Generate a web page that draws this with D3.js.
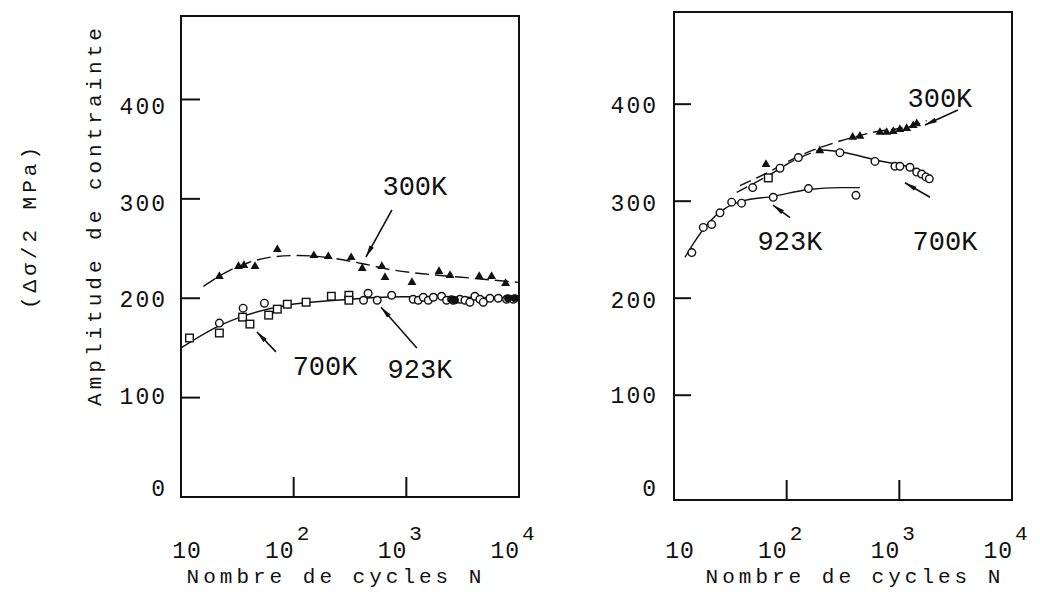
<!DOCTYPE html>
<html><head><meta charset="utf-8">
<script src="https://cdn.jsdelivr.net/npm/d3@7"></script>
<style>
body{margin:0;background:#fff;}
svg{display:block;}
text{font-family:"Liberation Mono","DejaVu Sans Mono",monospace;fill:#111;}
</style></head><body>
<svg id="chart" width="1040" height="596"></svg>
<script>
// ---------- data ----------
const xTicks = [10, 100, 1000, 10000];
const xTickBase = ["10", "10", "10", "10"];
const xTickExp = ["", "2", "3", "4"];
const yTicks = [0, 100, 200, 300, 400];
const yTickLabels = ["0", "100", "200", "300", "400"];

// left panel
const leftT300 = [[21.9,222],[32.4,232],[36.2,233],[45.4,232],[71.6,249],[151,243],[203,242],[324,241],[406,230],[606,232],[647,221],[1122,216],[1950,227],[2443,223],[4436,222],[5710,222],[7600,215]];
const leftCurve300 = [[15.8,212],[25,226],[40,236],[70,242],[110,243],[200,241],[400,235],[800,228],[1600,224],[4000,220],[9800,216]];
const leftS700 = [[11.9,160],[21.9,165],[35.2,181],[40.9,174],[60,183],[71.6,189],[87.8,194],[129,196],[216,202],[309,203],[309,198]];
const leftC923 = [[21.9,175],[35.6,190],[55,195],[417,198],[458,205],[551,198],[741,203],[1150,199],[1276,198],[1414,201],[1567,198],[1738,201],[2055,202],[2276,198],[2606,198],[2990,199],[3311,198],[3664,196],[4060,202],[4500,199],[4820,196],[5520,200],[6550,200],[7760,199],[8900,199]];
const leftFilled = [[2500,199],[2700,198],[8000,200],[9200,200]];
const leftCurveLow = [[10,150],[20.7,171],[38,183],[87,193],[240,198],[940,201.5],[10000,200]];

// right panel
const rightT300 = [[65.5,338],[197,352],[385,366],[447,367],[673,371],[771,371],[883,372],[1012,374],[1161,375],[1328,378],[1425,380]];
const rightCurve300 = [[38.5,316],[66.5,329],[131,347],[297,362],[587,371],[1425,379],[1746,383]];
const rightC700 = [[49.9,314],[87.2,334],[127,345],[297,350],[608,341],[914,336],[1012,336],[1242,335],[1425,330],[1578,328],[1723,325],[1845,323]];
const rightS700 = [[68.7,324]];
const rightCurve700a = [[36,309],[70,327],[120,343],[197,353]];
const rightCurve700b = [[197,353],[297,351],[587,343],[1746,328],[1936,323]];
const rightC923 = [[14.4,247],[18.2,273],[21.6,276],[25.6,288],[32.5,299],[39.8,298],[76,304],[156,313],[412,306]];
const rightCurve923 = [[12.5,242],[15,257],[20,277],[28,292],[40,300],[76,305],[156,312],[300,314],[447,314]];

// annotations: [label, textN, textV, arrowFromN, arrowFromV, arrowToN, arrowToV]
const leftNotes = [["300K",1191,314,745,289,438,241.5],["700K",190,133,69.7,146,47.2,166],["923K",1321,130,1241,150,596,191]];
const rightNotes = [["300K",2291,407,3311,394,1687,378.6],["923K",107,260,107,283,75.5,296],["700K",2541,260,1871,304,1122,319]];

// ---------- drawing ----------
const svg = d3.select("#chart");
const defs = svg.append("defs");
defs.append("marker").attr("id","ah").attr("viewBox","0 0 12 6").attr("refX",12).attr("refY",3)
  .attr("markerWidth",12).attr("markerHeight",6).attr("markerUnits","userSpaceOnUse").attr("orient","auto")
  .append("path").attr("d","M0,0.6 L12,3 L0,5.4 Z").attr("fill","#111");

function panel(cfg){
  const x = d3.scaleLog().domain([10,10000]).range(cfg.xr);
  const y = d3.scaleLinear().domain(cfg.yd).range(cfg.yr);
  const g = svg.append("g");
  // frame
  g.append("rect").attr("x",x(10)).attr("y",cfg.yr[1]).attr("width",x(10000)-x(10)).attr("height",cfg.yr[0]-cfg.yr[1])
    .attr("fill","none").attr("stroke","#111").attr("stroke-width",2);
  // y ticks
  g.selectAll(".yt").data(yTicks.filter(d=>d>0)).enter().append("line")
    .attr("x1",x(10)).attr("x2",x(10)+cfg.ytl).attr("y1",d=>y(d)).attr("y2",d=>y(d)).attr("stroke","#111").attr("stroke-width",2);
  g.selectAll(".yl").data(yTicks).enter().append("text")
    .attr("x",x(10)-cfg.ylOff).attr("y",(d,i)=>y(d)+8+cfg.ylDy[i]).attr("text-anchor","end")
    .style("font-size","23px").style("letter-spacing","2px").text((d,i)=>yTickLabels[i]);
  // x ticks
  g.selectAll(".xt").data(xTicks.slice(1,3)).enter().append("line")
    .attr("x1",d=>x(d)).attr("x2",d=>x(d)).attr("y1",cfg.yr[0]).attr("y2",cfg.yr[0]-20).attr("stroke","#111").attr("stroke-width",2);
  xTicks.forEach((d,i)=>{
    const t = g.append("text").attr("x",x(d)+(i===0?6:-6)).attr("y",558).attr("text-anchor","middle")
      .style("font-size","23px").style("letter-spacing","1px");
    t.append("tspan").text(xTickBase[i]);
    if(xTickExp[i]) t.append("tspan").attr("dy",-18).attr("dx",2).style("font-size","21px").text(xTickExp[i]);
  });
  g.append("text").attr("x",(x(10)+x(10000))/2+cfg.titleDx).attr("y",583).attr("text-anchor","middle")
    .style("font-size","21px").style("letter-spacing","4px").text("Nombre de cycles N");

  const line = d3.line().x(d=>x(d[0])).y(d=>y(d[1])).curve(d3.curveMonotoneX);
  cfg.curves.forEach(c=>{
    g.append("path").attr("d",line(c.data)).attr("fill","none").attr("stroke","#111")
      .attr("stroke-width",c.w||1.4).attr("stroke-dasharray",c.dash||null);
  });
  cfg.tri.forEach(arr=>{
    g.selectAll(null).data(arr).enter().append("path")
      .attr("d",d3.symbol().type(d3.symbolTriangle).size(34))
      .attr("transform",d=>`translate(${x(d[0])},${y(d[1])})`).attr("fill","#111");
  });
  cfg.circ.forEach(arr=>{
    g.selectAll(null).data(arr).enter().append("circle")
      .attr("cx",d=>x(d[0])).attr("cy",d=>y(d[1])).attr("r",3.8)
      .attr("fill","#fff").attr("stroke","#111").attr("stroke-width",1.4);
  });
  cfg.sq.forEach(arr=>{
    g.selectAll(null).data(arr).enter().append("rect")
      .attr("x",d=>x(d[0])-3.8).attr("y",d=>y(d[1])-3.8).attr("width",7.6).attr("height",7.6)
      .attr("fill","#fff").attr("stroke","#111").attr("stroke-width",1.4);
  });
  (cfg.filled||[]).forEach(arr=>{
    g.selectAll(null).data(arr).enter().append("circle")
      .attr("cx",d=>x(d[0])).attr("cy",d=>y(d[1])).attr("r",4).attr("fill","#111");
  });
  cfg.notes.forEach(n=>{
    g.append("text").attr("x",x(n[1])).attr("y",y(n[2])+10).attr("text-anchor","middle")
      .style("font-size","27px").text(n[0]);
    g.append("line").attr("x1",x(n[3])).attr("y1",y(n[4])).attr("x2",x(n[5])).attr("y2",y(n[6]))
      .attr("stroke","#111").attr("stroke-width",1.6).attr("marker-end","url(#ah)");
  });
}

panel({xr:[181,519], yd:[0,484], yr:[497,16], ytl:19, ylOff:14, ylDy:[-9,-2,1,4,7], titleDx:-14,
  curves:[{data:leftCurve300,dash:"14,6"},{data:leftCurveLow}],
  tri:[leftT300], circ:[leftC923], sq:[leftS700], filled:[leftFilled], notes:leftNotes});
panel({xr:[674,1012], yd:[-8,495], yr:[500,12], ytl:17, ylOff:16, ylDy:[-4,0,2,2,1], titleDx:12,
  curves:[{data:rightCurve300,dash:"12,6"},{data:rightCurve700a,dash:"12,6"},{data:rightCurve700b},{data:rightCurve923}],
  tri:[rightT300], circ:[rightC700,rightC923], sq:[rightS700], notes:rightNotes});

// y axis titles
svg.append("text").attr("transform","translate(101,215) rotate(-90)").attr("text-anchor","middle")
  .style("font-size","21px").style("letter-spacing","4px").text("Amplitude de contrainte");
svg.append("text").attr("transform","translate(36,226) rotate(-90)").attr("text-anchor","middle")
  .style("font-size","21px").style("letter-spacing","4px").text("(Δσ/2 MPa)");
</script>
</body></html>
